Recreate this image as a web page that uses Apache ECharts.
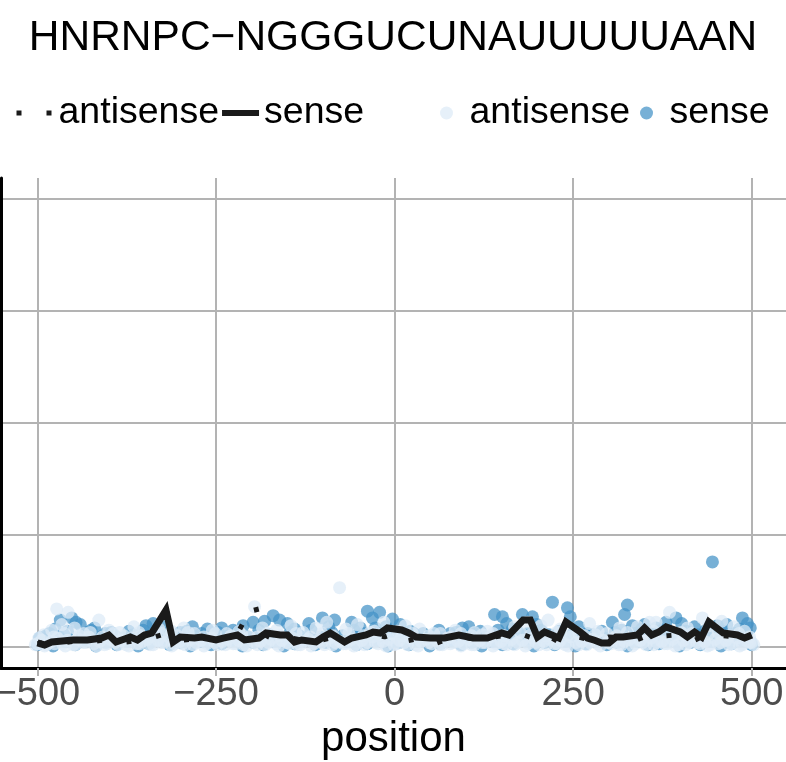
<!DOCTYPE html>
<html>
<head>
<meta charset="utf-8">
<script src="https://cdn.jsdelivr.net/npm/echarts@6/dist/echarts.min.js"></script>
<style>
  html, body { margin: 0; padding: 0; background: #ffffff; }
  #chart { width: 786px; height: 762px; }
</style>
</head>
<body>
<div id="chart"></div>
<script>
// Title and axis text
const chartTitle = 'HNRNPC\u2212NGGGUCUNAUUUUUAAN';
const xAxisTitle = 'position';
const xTickValues = [-500, -250, 0, 250, 500];
const yTickValues = [0, 1, 2, 3, 4];
const xRange = [-551, 548];
const yRange = [-0.1875, 4.1875];

// Smoothed profile lines: [position, value]
const senseLine = [
  [-500,0.036],[-490,0.018],[-480,0.045],[-450,0.063],[-430,0.063],[-410,0.08],[-400,0.107],[-390,0.045],
  [-370,0.089],[-360,0.063],[-350,0.107],[-340,0.125],[-320,0.33],[-310,0.045],[-300,0.089],[-280,0.08],
  [-270,0.089],[-250,0.063],[-240,0.08],[-220,0.107],[-210,0.063],[-190,0.08],[-180,0.125],[-160,0.107],
  [-150,0.107],[-140,0.045],[-130,0.063],[-110,0.045],[-100,0.089],[-90,0.125],[-70,0.045],[-60,0.08],
  [-40,0.107],[-30,0.134],[-20,0.125],[-10,0.17],[10,0.152],[20,0.125],[30,0.089],[50,0.08],[70,0.08],
  [90,0.107],[110,0.08],[130,0.08],[150,0.125],[160,0.107],[180,0.241],[190,0.241],[200,0.089],[210,0.134],
  [220,0.107],[230,0.08],[240,0.223],[260,0.134],[270,0.08],[280,0.06],[290,0.036],[300,0.036],[310,0.089],
  [320,0.089],[340,0.107],[350,0.17],[360,0.107],[370,0.134],[380,0.179],[400,0.134],[410,0.089],[420,0.134],
  [430,0.089],[440,0.223],[460,0.125],[480,0.107],[490,0.08],[500,0.107]
];
const antisenseLine = [
  [-500,0.03],[-480,0.05],[-460,0.04],[-440,0.06],[-420,0.05],[-400,0.07],[-380,0.04],[-360,0.06],[-340,0.08],
  [-320,0.12],[-300,0.06],[-280,0.07],[-260,0.05],[-240,0.08],[-220,0.12],[-205,0.30],[-195,0.37],[-185,0.12],
  [-170,0.07],[-150,0.09],[-130,0.06],[-110,0.05],[-90,0.08],[-70,0.06],[-50,0.09],[-30,0.11],[-14,0.09],
  [0,0.12],[14,0.05],[30,0.07],[53,0.02],[70,0.06],[91,0.10],[110,0.07],[130,0.08],[150,0.10],[165,0.09],
  [180,0.11],[193,0.08],[210,0.12],[231,0.04],[250,0.10],[270,0.07],[285,0.05],[300,0.09],[320,0.08],
  [338,0.06],[361,0.12],[380,0.10],[400,0.11],[420,0.06],[440,0.12],[460,0.10],[480,0.09],[492,0.09],[500,0.10]
];

// Individual sites, sense strand: [position, value]
const sensePoints = [
  [-500,0.02],[-492,0.04],[-478,0.01],[-461,0.05],[-447,0.02],[-433,0.06],[-418,0.01],[-404,0.04],[-389,0.02],
  [-374,0.05],[-359,0.01],[-344,0.03],[-330,0.06],[-315,0.02],[-300,0.04],[-286,0.01],[-271,0.05],[-257,0.02],
  [-242,0.03],[-228,0.06],[-213,0.01],[-198,0.04],[-184,0.02],[-169,0.05],[-155,0.01],[-140,0.03],[-126,0.06],
  [-111,0.02],[-96,0.04],[-82,0.01],[-67,0.05],[-53,0.02],[-38,0.03],[-24,0.06],[-9,0.01],[6,0.04],[20,0.02],
  [35,0.05],[49,0.01],[64,0.03],[79,0.06],[93,0.02],[108,0.04],[122,0.01],[137,0.05],[151,0.02],[166,0.03],
  [181,0.06],[195,0.01],[210,0.04],[224,0.02],[239,0.05],[253,0.01],[268,0.03],[283,0.06],[297,0.02],[312,0.04],
  [326,0.01],[341,0.05],[355,0.02],[370,0.03],[385,0.06],[399,0.01],[414,0.04],[428,0.02],[443,0.05],[457,0.01],
  [472,0.03],[487,0.06],[500,0.02],
  [-497,0.08],[-483,0.12],[-470,0.09],[-458,0.14],[-437,0.10],[-425,0.15],[-411,0.09],[-397,0.13],[-381,0.08],
  [-366,0.11],[-352,0.15],[-333,0.09],[-318,0.12],[-306,0.08],[-291,0.14],[-276,0.10],[-259,0.09],[-247,0.13],
  [-233,0.10],[-219,0.14],[-205,0.09],[-190,0.15],[-176,0.11],[-163,0.08],[-146,0.13],[-133,0.10],[-117,0.15],
  [-104,0.09],[-88,0.13],[-73,0.10],[-57,0.15],[-43,0.12],[-27,0.17],[-16,0.10],[-5,0.14],[12,0.09],[27,0.12],
  [44,0.08],[57,0.11],[70,0.09],[86,0.13],[100,0.10],[114,0.12],[128,0.09],[145,0.15],[160,0.11],[172,0.14],
  [186,0.12],[205,0.15],[216,0.11],[231,0.14],[250,0.12],[263,0.09],[277,0.11],[294,0.08],[309,0.13],[318,0.15],
  [337,0.12],[346,0.16],[361,0.13],[374,0.15],[389,0.12],[408,0.14],[424,0.11],[436,0.15],[448,0.12],[461,0.14],
  [476,0.12],[483,0.16],[492,0.13],
  [-488,0.10],[-475,0.16],[-468,0.24],[-452,0.26],[-446,0.22],[-440,0.20],[-430,0.13],[-420,0.17],[-405,0.12],
  [-392,0.10],[-372,0.14],[-348,0.19],[-338,0.21],[-322,0.18],[-300,0.13],[-283,0.18],[-270,0.12],[-262,0.16],
  [-242,0.17],[-226,0.15],[-212,0.19],[-198,0.22],[-182,0.23],[-170,0.28],[-161,0.24],[-150,0.21],[-140,0.16],
  [-120,0.21],[-101,0.26],[-92,0.18],[-84,0.24],[-60,0.22],[-48,0.17],[-38,0.32],[-31,0.26],[-21,0.31],[-12,0.18],
  [-3,0.25],[8,0.20],[22,0.14],[40,0.12],[62,0.15],[78,0.12],[95,0.17],[104,0.18],[120,0.14],[140,0.29],
  [151,0.27],[157,0.21],[165,0.16],[179,0.29],[193,0.27],[199,0.20],[221,0.40],[242,0.35],[246,0.27],[258,0.18],
  [270,0.12],[290,0.14],[305,0.22],[322,0.29],[326,0.375],[333,0.19],[350,0.20],[366,0.17],[380,0.22],[394,0.26],
  [402,0.21],[420,0.18],[445,0.76],[452,0.19],[465,0.20],[487,0.26],[494,0.21],[498,0.17]
];

// Individual sites, antisense strand: [position, value]
const antisensePoints = [
  [-500,0.03],[-494,0.06],[-487,0.02],[-480,0.05],[-472,0.08],[-465,0.03],[-458,0.06],[-450,0.02],[-443,0.07],
  [-436,0.04],[-428,0.09],[-421,0.03],[-413,0.05],[-406,0.02],[-398,0.07],[-391,0.04],[-383,0.06],[-376,0.02],
  [-368,0.08],[-361,0.03],[-353,0.05],[-346,0.07],[-338,0.02],[-331,0.06],[-323,0.04],[-316,0.09],[-308,0.03],
  [-301,0.05],[-293,0.02],[-286,0.07],[-278,0.04],[-271,0.06],[-263,0.03],[-256,0.08],[-248,0.02],[-241,0.05],
  [-233,0.07],[-226,0.03],[-218,0.06],[-211,0.02],[-203,0.09],[-196,0.04],[-188,0.05],[-181,0.02],[-173,0.07],
  [-166,0.03],[-158,0.06],[-151,0.04],[-143,0.08],[-136,0.02],[-128,0.05],[-121,0.07],[-113,0.03],[-106,0.06],
  [-98,0.02],[-91,0.08],[-83,0.04],[-76,0.05],[-68,0.03],[-61,0.07],[-53,0.02],[-46,0.06],[-38,0.04],[-31,0.09],
  [-23,0.03],[-16,0.05],[-8,0.07],[-1,0.02],[7,0.06],[14,0.04],[22,0.08],[29,0.02],[37,0.05],[44,0.07],[52,0.03],
  [59,0.06],[67,0.02],[74,0.08],[82,0.04],[89,0.05],[97,0.03],[104,0.07],[112,0.02],[119,0.06],[127,0.04],
  [134,0.09],[142,0.03],[149,0.05],[157,0.02],[164,0.07],[172,0.04],[179,0.06],[187,0.03],[194,0.08],[202,0.02],
  [209,0.05],[217,0.07],[224,0.03],[232,0.06],[239,0.02],[247,0.09],[254,0.04],[262,0.05],[269,0.02],[277,0.07],
  [284,0.03],[292,0.06],[299,0.04],[307,0.08],[314,0.02],[322,0.05],[329,0.07],[337,0.03],[344,0.06],[352,0.02],
  [359,0.08],[367,0.04],[374,0.05],[382,0.03],[389,0.07],[397,0.02],[404,0.06],[412,0.04],[419,0.09],[427,0.03],
  [434,0.05],[442,0.02],[449,0.07],[457,0.04],[464,0.06],[472,0.03],[479,0.08],[487,0.02],[494,0.05],[500,0.04],
  [-503,0.02],[-490,0.01],[-476,0.03],[-461,0.01],[-447,0.02],[-432,0.04],[-417,0.01],[-402,0.03],[-387,0.02],
  [-372,0.01],[-357,0.03],[-342,0.02],[-327,0.04],[-312,0.01],[-297,0.03],[-282,0.02],[-267,0.01],[-252,0.04],
  [-237,0.02],[-222,0.03],[-207,0.01],[-192,0.02],[-177,0.04],[-162,0.01],[-147,0.03],[-132,0.02],[-117,0.01],
  [-102,0.04],[-87,0.02],[-72,0.03],[-57,0.01],[-42,0.02],[-27,0.04],[-12,0.01],[3,0.03],[18,0.02],[33,0.01],
  [48,0.04],[63,0.02],[78,0.03],[93,0.01],[108,0.02],[123,0.04],[138,0.01],[153,0.03],[168,0.02],[183,0.01],
  [198,0.04],[213,0.02],[228,0.03],[243,0.01],[258,0.02],[273,0.04],[288,0.01],[303,0.03],[318,0.02],[333,0.01],
  [348,0.04],[363,0.02],[378,0.03],[393,0.01],[408,0.02],[423,0.04],[438,0.01],[453,0.03],[468,0.02],[483,0.01],
  [497,0.04],[503,0.02],
  [-491,0.11],[-477,0.09],[-462,0.12],[-441,0.10],[-426,0.13],[-409,0.09],[-394,0.12],[-379,0.10],[-358,0.13],
  [-342,0.09],[-326,0.12],[-304,0.10],[-289,0.13],[-267,0.09],[-251,0.12],[-229,0.10],[-214,0.11],[-192,0.09],
  [-178,0.12],[-160,0.10],[-138,0.12],[-118,0.09],[-101,0.12],[-86,0.10],[-64,0.12],[-44,0.10],[-34,0.13],
  [-20,0.11],[-4,0.12],[10,0.10],[25,0.12],[48,0.10],[64,0.12],[79,0.09],[93,0.12],[108,0.10],[123,0.11],
  [138,0.12],[154,0.10],[176,0.13],[191,0.11],[212,0.10],[227,0.13],[243,0.11],[258,0.12],[266,0.10],[281,0.11],
  [297,0.12],[311,0.10],[326,0.13],[348,0.11],[363,0.14],[378,0.12],[393,0.11],[401,0.13],[416,0.12],[439,0.11],
  [453,0.13],[468,0.10],[482,0.12],[497,0.09],
  [-498,0.08],[-480,0.15],[-473,0.34],[-466,0.20],[-457,0.31],[-448,0.17],[-435,0.12],[-414,0.24],[-400,0.15],
  [-385,0.13],[-365,0.18],[-355,0.10],[-330,0.16],[-312,0.14],[-295,0.17],[-280,0.12],[-255,0.15],[-235,0.12],
  [-218,0.14],[-196,0.36],[-185,0.17],[-165,0.15],[-145,0.19],[-128,0.13],[-110,0.17],[-95,0.22],[-77,0.53],
  [-68,0.16],[-52,0.20],[-28,0.14],[-15,0.22],[5,0.14],[15,0.19],[35,0.16],[55,0.12],[85,0.15],[112,0.13],
  [130,0.14],[168,0.18],[186,0.22],[205,0.19],[215,0.24],[232,0.16],[273,0.21],[285,0.14],[315,0.17],[340,0.18],
  [357,0.22],[366,0.22],[385,0.31],[410,0.17],[431,0.26],[440,0.19],[458,0.23],[475,0.18],[490,0.14]
];

const FONT = '"Liberation Sans", Arial, Helvetica, sans-serif';
const legendNames = {
  lineAntisense: 'antisense', lineSense: 'sense',
  ptAntisense: 'antisense', ptSense: 'sense'
};
const minusSign = v => String(v).replace('-', '\u2212');

const chart = echarts.init(document.getElementById('chart'), null, { renderer: 'canvas' });

chart.setOption({
  animation: false,
  backgroundColor: '#ffffff',
  title: {
    text: chartTitle,
    left: 'center',
    top: 12,
    textStyle: { fontFamily: FONT, fontSize: 42.5, fontWeight: 'normal', color: '#000000' }
  },
  legend: [
    {
      data: [
        { name: 'lineAntisense', lineStyle: { width: 5 } },
        { name: 'lineSense', lineStyle: { width: 6 } }
      ],
      left: 14, top: 94, padding: 0,
      itemWidth: 37, itemHeight: 8, itemGap: 0,
      itemStyle: { opacity: 0 },
      formatter: n => legendNames[n],
      textStyle: { fontFamily: FONT, fontSize: 37.5, color: '#000000' },
      selectedMode: false
    },
    {
      data: ['ptAntisense', 'ptSense'],
      left: 440, top: 94, padding: 0,
      itemWidth: 36, itemHeight: 13, itemGap: 10,
      formatter: n => legendNames[n],
      textStyle: { fontFamily: FONT, fontSize: 37.5, color: '#000000' },
      selectedMode: false
    }
  ],
  grid: { left: 1, right: 0, top: 178, bottom: 94, containLabel: false, outerBoundsMode: 'none' },
  xAxis: {
    type: 'value',
    min: xRange[0], max: xRange[1],
    name: xAxisTitle,
    nameLocation: 'middle',
    nameGap: 44,
    nameTextStyle: { fontFamily: FONT, fontSize: 42, color: '#000000' },
    axisLine: { show: true, onZero: false, lineStyle: { color: '#000000', width: 3 } },
    axisTick: { show: true, customValues: xTickValues, length: 8, lineStyle: { color: '#b3b3b3', width: 2 } },
    axisLabel: {
      customValues: xTickValues, margin: 8,
      fontFamily: FONT, fontSize: 38, color: '#4d4d4d',
      formatter: minusSign
    },
    splitLine: { show: true, lineStyle: { color: '#b3b3b3', width: 2 } }
  },
  yAxis: {
    type: 'value',
    min: yRange[0], max: yRange[1],
    axisLine: { show: true, onZero: false, lineStyle: { color: '#000000', width: 3 } },
    axisTick: { show: false, customValues: yTickValues },
    axisLabel: { show: false, customValues: yTickValues },
    splitLine: { show: true, lineStyle: { color: '#b3b3b3', width: 2 } }
  },
  series: [
    {
      name: 'ptSense', type: 'scatter', data: sensePoints,
      symbol: 'circle', symbolSize: 13, z: 2,
      itemStyle: { color: '#4292c6', opacity: 0.72 }
    },
    {
      name: 'ptAntisense', type: 'scatter', data: antisensePoints,
      symbol: 'circle', symbolSize: 13, z: 3,
      itemStyle: { color: '#deebf7', opacity: 0.75 }
    },
    {
      name: 'lineAntisense', type: 'line', data: antisenseLine,
      symbol: 'none', z: 4,
      lineStyle: { color: '#1a1a1a', width: 5, type: [5, 25], cap: 'butt' },
      itemStyle: { color: '#1a1a1a' }
    },
    {
      name: 'lineSense', type: 'line', data: senseLine,
      symbol: 'none', z: 5,
      lineStyle: { color: '#1a1a1a', width: 7, cap: 'butt', join: 'miter' },
      itemStyle: { color: '#1a1a1a' }
    }
  ]
});
</script>
</body>
</html>
